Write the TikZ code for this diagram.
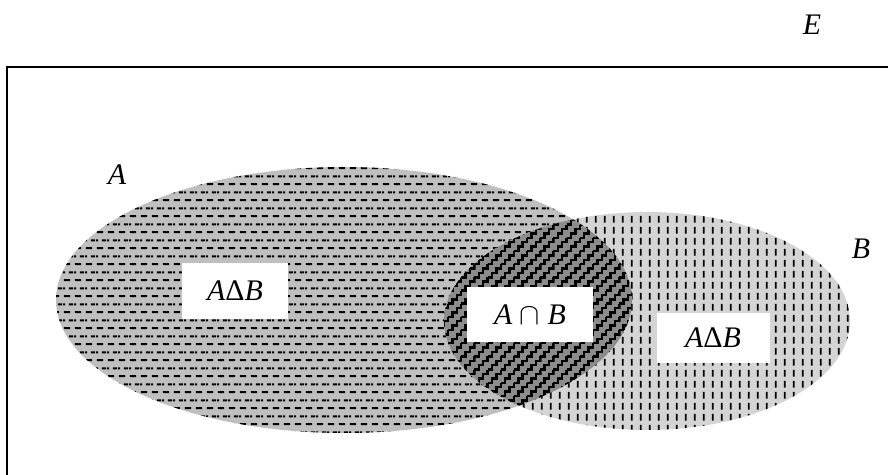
\documentclass[tikz,border=0pt]{standalone}
\usepackage{fontspec}
\setmainfont{Liberation Serif}
\usetikzlibrary{patterns,positioning}

\pgfdeclarepatternformonly{hdashes}{\pgfqpoint{0pt}{0pt}}{\pgfqpoint{6pt}{9pt}}{\pgfqpoint{6pt}{9pt}}{
  \pgfsetlinewidth{1.1pt}
  \pgfpathmoveto{\pgfqpoint{0.5pt}{2.2pt}}\pgfpathlineto{\pgfqpoint{4.3pt}{2.2pt}}
  \pgfpathmoveto{\pgfqpoint{3.5pt}{6.7pt}}\pgfpathlineto{\pgfqpoint{6pt}{6.7pt}}
  \pgfpathmoveto{\pgfqpoint{0pt}{6.7pt}}\pgfpathlineto{\pgfqpoint{1.3pt}{6.7pt}}
  \pgfusepath{stroke}}
\pgfdeclarepatternformonly{vdashes}{\pgfqpoint{0pt}{0pt}}{\pgfqpoint{5pt}{6pt}}{\pgfqpoint{5pt}{6pt}}{
  \pgfsetlinewidth{1pt}
  \pgfpathmoveto{\pgfqpoint{2.2pt}{0.8pt}}\pgfpathlineto{\pgfqpoint{2.2pt}{4.8pt}}
  \pgfusepath{stroke}}
\pgfdeclarepatternformonly{stairs}{\pgfqpoint{-0.7pt}{-0.7pt}}{\pgfqpoint{8.2pt}{8.2pt}}{\pgfqpoint{7.5pt}{7.5pt}}{
  \pgfsetlinewidth{1.4pt}
  \pgfpathmoveto{\pgfqpoint{0pt}{0pt}}
  \pgfpathlineto{\pgfqpoint{2.5pt}{0pt}}\pgfpathlineto{\pgfqpoint{2.5pt}{2.5pt}}
  \pgfpathlineto{\pgfqpoint{5pt}{2.5pt}}\pgfpathlineto{\pgfqpoint{5pt}{5pt}}
  \pgfpathlineto{\pgfqpoint{7.5pt}{5pt}}\pgfpathlineto{\pgfqpoint{7.5pt}{7.5pt}}
  \pgfusepath{stroke}}

\begin{document}
\begin{tikzpicture}[x=0.02cm,y=0.02cm,
  setname/.style={font=\fontsize{17}{20}\selectfont\itshape},
  regionbox/.style={fill=white,inner sep=0pt,font=\fontsize{17}{20}\selectfont\itshape}]
  \useasboundingbox (0,0) rectangle (888,475);
  \fill[black!25,postaction={pattern=hdashes}] (344,175) ellipse [x radius=288,y radius=133];
  \fill[black!17,postaction={pattern=vdashes}] (647,154) ellipse [x radius=203,y radius=109];
  \begin{scope}
    \clip (344,175) ellipse [x radius=288,y radius=133];
    \fill[black!45,postaction={pattern=stairs}] (647,154) ellipse [x radius=203,y radius=109];
  \end{scope}
  \node[regionbox,minimum width=2.12cm,minimum height=1.12cm] (diffA) at (235,184) {A\textup{Δ}B};
  \node[regionbox,minimum width=2.52cm,minimum height=1.1cm] (capAB) at (530,160) {A $\cap$ B};
  \node[regionbox,minimum width=2.26cm,minimum height=1cm] (diffB) at (713,137) {A\textup{Δ}B};
  \node[setname] (univ) at (812,450) {E};
  \node[setname] (nameA) at (117,300) {A};
  \node[setname] (nameB) at (861,226) {B};
  \draw[line width=1.1pt] (888,408) -- (7,408) -- (7,0);
\end{tikzpicture}
\end{document}
